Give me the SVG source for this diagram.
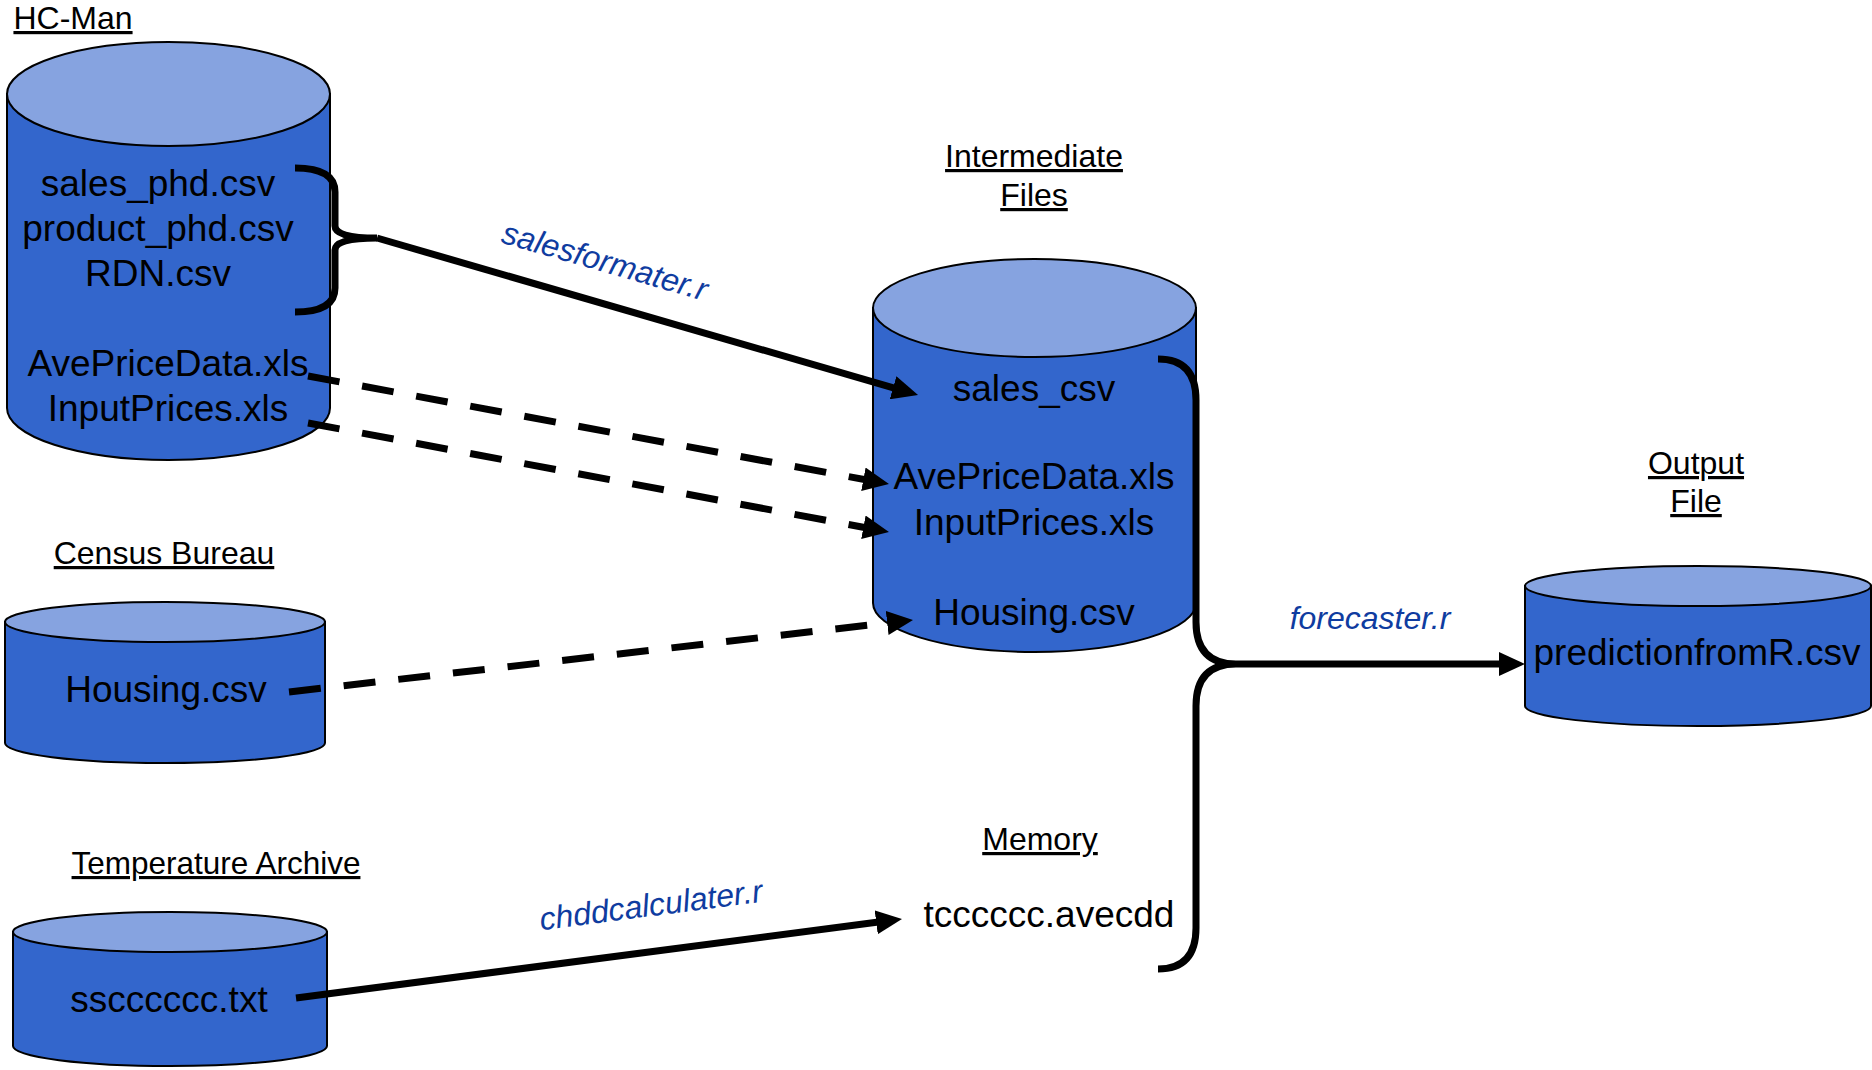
<svg xmlns="http://www.w3.org/2000/svg" width="1872" height="1070" viewBox="0 0 1872 1070">
  <style>
    .body { fill: #3366CC; stroke: #000; stroke-width: 2; }
    .top { fill: #86A3E0; stroke: #000; stroke-width: 2; }
    .hdr { font-family: "Liberation Sans", Arial, sans-serif; font-size: 32px; fill: #000; text-decoration: underline; text-anchor: middle; }
    .file { font-family: "Liberation Sans", Arial, sans-serif; font-size: 37px; fill: #000; text-anchor: middle; }
    .script { font-family: "Liberation Sans", Arial, sans-serif; font-size: 32px; font-style: italic; fill: #0F3CA0; text-anchor: middle; }
    .wire { fill: none; stroke: #000; stroke-width: 7; }
    .dash { fill: none; stroke: #000; stroke-width: 7; stroke-dasharray: 32 23; }
  </style>
  <defs>
    <marker id="head" markerUnits="userSpaceOnUse" markerWidth="26" markerHeight="24" refX="12" refY="12" orient="auto">
      <path d="M0,0 L26,12 L0,24 Z" fill="#000"/>
    </marker>
  </defs>

  <rect width="1872" height="1070" fill="#fff"/>

  <!-- HC-Man source store -->
  <g id="hc-man">
    <text class="hdr" x="73" y="29">HC-Man</text>
    <path class="body" d="M7,94 V408 A161.5,52 0 0 0 330,408 V94 Z"/>
    <ellipse class="top" cx="168.5" cy="94" rx="161.5" ry="52"/>
    <text class="file" x="158" y="196">sales_phd.csv</text>
    <text class="file" x="158" y="241">product_phd.csv</text>
    <text class="file" x="158" y="286">RDN.csv</text>
    <text class="file" x="168" y="376">AvePriceData.xls</text>
    <text class="file" x="168" y="421">InputPrices.xls</text>
  </g>

  <!-- Intermediate files store -->
  <g id="intermediate">
    <text class="hdr" x="1034" y="167">Intermediate</text>
    <text class="hdr" x="1034" y="206">Files</text>
    <path class="body" d="M873,308 V603 A161.5,49 0 0 0 1196,603 V308 Z"/>
    <ellipse class="top" cx="1034.5" cy="308" rx="161.5" ry="49"/>
    <text class="file" x="1034" y="401">sales_csv</text>
    <text class="file" x="1034" y="489">AvePriceData.xls</text>
    <text class="file" x="1034" y="535">InputPrices.xls</text>
    <text class="file" x="1034" y="625">Housing.csv</text>
  </g>

  <!-- Census Bureau store -->
  <g id="census">
    <text class="hdr" x="164" y="564">Census Bureau</text>
    <path class="body" d="M5,622 V743 A160,20 0 0 0 325,743 V622 Z"/>
    <ellipse class="top" cx="165" cy="622" rx="160" ry="20"/>
    <text class="file" x="166" y="702">Housing.csv</text>
  </g>

  <!-- Temperature archive store -->
  <g id="temperature">
    <text class="hdr" x="216" y="874" style="font-size:31.5px">Temperature Archive</text>
    <path class="body" d="M13,932 V1046 A157,20 0 0 0 327,1046 V932 Z"/>
    <ellipse class="top" cx="170" cy="932" rx="157" ry="20"/>
    <text class="file" x="169" y="1012">sscccccc.txt</text>
  </g>

  <!-- In-memory result -->
  <g id="memory">
    <text class="hdr" x="1040" y="850">Memory</text>
    <text class="file" x="1049" y="927">tcccccc.avecdd</text>
  </g>

  <!-- Output store -->
  <g id="output">
    <text class="hdr" x="1696" y="474">Output</text>
    <text class="hdr" x="1696" y="512">File</text>
    <path class="body" d="M1525,586 V706 A173,20 0 0 0 1871,706 V586 Z"/>
    <ellipse class="top" cx="1698" cy="586" rx="173" ry="20"/>
    <text class="file" x="1697" y="665">predictionfromR.csv</text>
  </g>

  <!-- Connectors -->
  <g id="connectors">
    <!-- brace grouping the three csv inputs -->
    <path class="wire" d="M295,168 Q335,168 335,192 L335,226 Q335,238 377,238 Q335,238 335,250 L335,288 Q335,312 295,312"/>
    <line class="wire" x1="377" y1="238" x2="904.6" y2="391.1" marker-end="url(#head)"/>
    <line class="dash" x1="308" y1="376" x2="875.2" y2="481.5" marker-end="url(#head)"/>
    <line class="dash" x1="308" y1="423" x2="875.2" y2="529.5" marker-end="url(#head)"/>
    <line class="dash" x1="289" y1="692" x2="899.1" y2="621.6" marker-end="url(#head)"/>
    <line class="wire" x1="296" y1="998" x2="888.1" y2="920.8" marker-end="url(#head)"/>
    <!-- brace joining intermediate files and memory -->
    <path class="wire" d="M1158,359 Q1196,359 1196,400 L1196,622 Q1196,664 1236,664 Q1196,664 1196,706 L1196,928 Q1196,969 1158,969"/>
    <line class="wire" x1="1236" y1="664" x2="1511" y2="664" marker-end="url(#head)"/>

    <text class="script" transform="translate(605,261) rotate(16)" y="11">salesformater.r</text>
    <text class="script" transform="translate(651,905) rotate(-7.3)" y="11">chddcalculater.r</text>
    <text class="script" x="1370" y="629">forecaster.r</text>
  </g>
</svg>
